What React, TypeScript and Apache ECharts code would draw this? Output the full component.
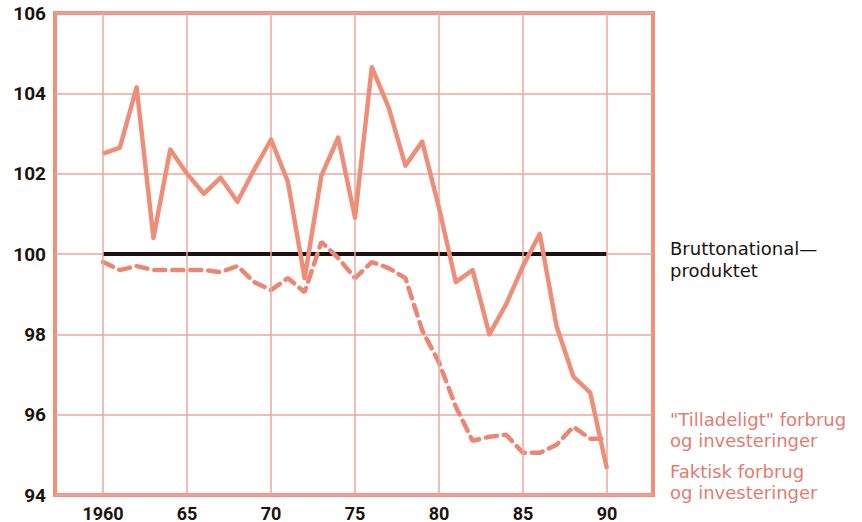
import React, { useEffect, useRef } from "react";
import * as echarts from "echarts";

const years = [1960, 1961, 1962, 1963, 1964, 1965, 1966, 1967, 1968, 1969, 1970, 1971, 1972, 1973, 1974, 1975, 1976, 1977, 1978, 1979, 1980, 1981, 1982, 1983, 1984, 1985, 1986, 1987, 1988, 1989, 1990];
const faktisk = [102.5, 102.65, 104.15, 100.4, 102.6, 102.0, 101.5, 101.9, 101.3, 102.1, 102.85, 101.8, 99.4, 101.95, 102.9, 100.9, 104.65, 103.65, 102.2, 102.8, 101.15, 99.3, 99.6, 98.0, 98.75, 99.7, 100.5, 98.2, 96.95, 96.55, 94.65];
const tilladeligt = [99.8, 99.6, 99.7, 99.6, 99.6, 99.6, 99.6, 99.55, 99.7, 99.3, 99.1, 99.4, 99.05, 100.3, 99.9, 99.4, 99.8, 99.65, 99.4, 98.1, 97.3, 96.2, 95.35, 95.45, 95.5, 95.05, 95.05, 95.25, 95.7, 95.4, 95.4];
const bnpYears = [1960, 1990];
const bnpValue = 100;
const xTicks = [1960, 1965, 1970, 1975, 1980, 1985, 1990];
const xMin = 1957.14;
const xMax = 1992.74;
const yMin = 94;
const yMax = 106;
const yStep = 2;

const labelBnp = ["Bruttonational—", "produktet"];
const labelTill = ['"Tilladeligt" forbrug', "og investeringer"];
const labelFakt = ["Faktisk forbrug", "og investeringer"];

const FONT = "'DejaVu Sans', sans-serif";
const TICK_FONT = "Roboto, sans-serif";
const GRID_COLOR = "#eba6a0";
const BORDER = "#f0907c";
const LINE = "#ef8e78";
const DASH = "#ec8674";
const TEXT_RED = "#e27c70";
const DARK = "#1c1210";

export default function App() {
  const ref = useRef<HTMLDivElement>(null);
  useEffect(() => {
    if (!ref.current) return;
    const chart = echarts.init(ref.current, undefined, { renderer: "svg" });
    const textStyle = (color: string) => ({ fill: color, fontSize: 18, fontFamily: FONT });
    chart.setOption({
      animation: false,
      backgroundColor: "#ffffff",
      grid: {
        left: 55,
        top: 13,
        right: 209,
        bottom: 27,
        show: true,
        borderColor: BORDER,
        borderWidth: 4,
        backgroundColor: "transparent",
      },
      xAxis: {
        type: "value",
        min: xMin,
        max: xMax,
        axisLine: { show: false },
        axisTick: { show: false },
        splitLine: { show: false },
        axisLabel: {
          customValues: xTicks,
          formatter: (v: number) => (v === 1960 ? "1960" : String(v).slice(2)),
          color: DARK,
          fontSize: 18,
          fontWeight: "bold",
          fontFamily: TICK_FONT,
          margin: 9,
        },
      },
      yAxis: {
        type: "value",
        min: yMin,
        max: yMax,
        interval: yStep,
        axisLine: { show: false },
        axisTick: { show: false },
        splitLine: { show: true, lineStyle: { color: GRID_COLOR, width: 1.5 } },
        axisLabel: { color: DARK, fontSize: 19, fontWeight: "bold", fontFamily: TICK_FONT, margin: 9 },
      },
      series: [
        {
          type: "line",
          data: [],
          z: 1,
          markLine: {
            silent: true,
            symbol: "none",
            label: { show: false },
            lineStyle: { color: GRID_COLOR, width: 1.5, type: "solid" },
            data: xTicks.map((t) => ({ xAxis: t })),
          },
        },
        {
          type: "line",
          data: bnpYears.map((y) => [y, bnpValue]),
          symbol: "none",
          z: 3,
          lineStyle: { color: DARK, width: 4 },
        },
        {
          type: "line",
          data: years.map((y, i) => [y, tilladeligt[i]]),
          symbol: "none",
          z: 4,
          lineStyle: { color: DASH, width: 4.5, type: [11, 7], cap: "round" },
        },
        {
          type: "line",
          data: years.map((y, i) => [y, faktisk[i]]),
          symbol: "none",
          z: 5,
          lineStyle: { color: LINE, width: 4.5, join: "round" },
        },
      ],
      graphic: [
        { type: "text", left: 670, top: 237, style: { ...textStyle(DARK), text: labelBnp.join("\n"), lineHeight: 22 } },
        { type: "text", left: 670, top: 409, style: { ...textStyle(TEXT_RED), text: labelTill.join("\n"), lineHeight: 21 } },
        { type: "text", left: 670, top: 461, style: { ...textStyle(TEXT_RED), text: labelFakt.join("\n"), lineHeight: 21 } },
      ],
    });
    return () => chart.dispose();
  }, []);
  return <div ref={ref} style={{ width: 862, height: 522, position: "fixed", left: 0, top: 0 }} />;
}
